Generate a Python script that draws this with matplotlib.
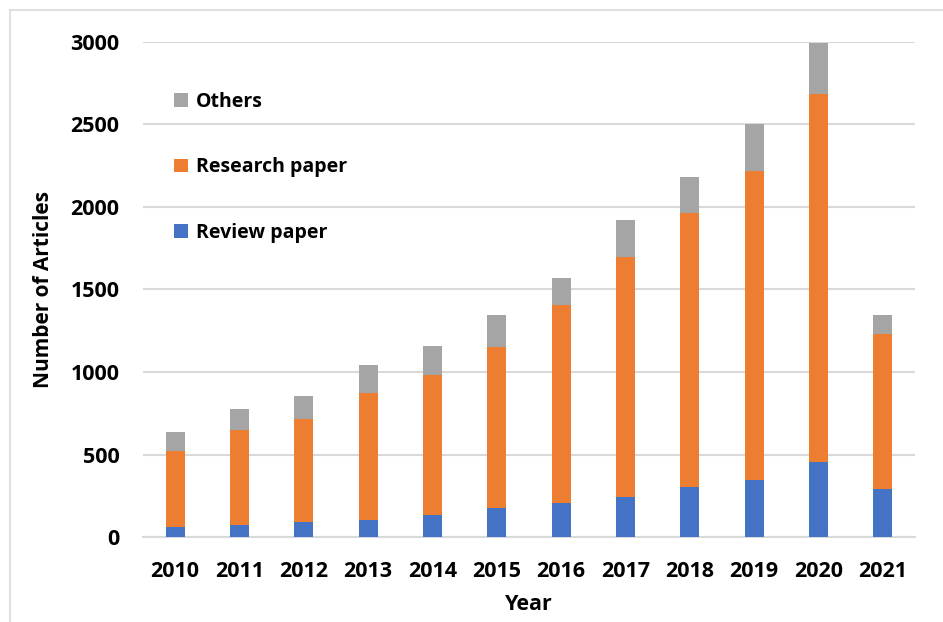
import matplotlib
matplotlib.use("Agg")
import matplotlib.pyplot as plt
from matplotlib.lines import Line2D
import numpy as np

plt.rcParams['font.family'] = ['Open Sans', 'DejaVu Sans']

years = ['2010', '2011', '2012', '2013', '2014', '2015',
         '2016', '2017', '2018', '2019', '2020', '2021']
review = [61, 74, 91, 107, 135, 176, 206, 246, 306, 347, 454, 291]
research = [463, 576, 627, 766, 847, 978, 1202, 1449, 1659, 1868, 2228, 940]
others = [115, 128, 139, 170, 178, 192, 162, 227, 218, 285, 308, 113]

c_review = '#4472C4'
c_research = '#ED7D31'
c_others = '#A5A5A5'

fig = plt.figure(figsize=(9.43, 6.22), dpi=100)
ax = fig.add_axes([143 / 943, 1 - 537.3 / 622, (915 - 143) / 943, (537.3 - 41.7) / 622])

x = np.arange(len(years))
w = 0.3
review_a = np.array(review)
research_a = np.array(research)
others_a = np.array(others)

b1 = ax.bar(x, review_a, w, color=c_review, label='Review paper', zorder=3)
b2 = ax.bar(x, research_a, w, bottom=review_a, color=c_research,
            label='Research paper', zorder=3)
b3 = ax.bar(x, others_a, w, bottom=review_a + research_a, color=c_others,
            label='Others', zorder=3)

ax.set_xlim(-0.5, len(years) - 0.5)
ax.set_ylim(0, 3000)
ax.set_yticks(range(0, 3001, 500))
ax.set_xticks(x)
ax.set_xticklabels(years)
ax.yaxis.grid(True, color='#D9D9D9', linewidth=1.5, zorder=0)
ax.set_axisbelow(True)
for s in ['top', 'right', 'left']:
    ax.spines[s].set_visible(False)
ax.spines['bottom'].set_color('#D9D9D9')
ax.spines['bottom'].set_linewidth(1.5)
ax.tick_params(axis='both', length=0, labelsize=15.5, pad=17)
for lab in ax.get_xticklabels() + ax.get_yticklabels():
    lab.set_fontweight('bold')

ax.set_xlabel('Year', fontsize=15.5, fontweight='bold', labelpad=9)
ax.set_ylabel('Number of Articles', fontsize=15, fontweight='bold', labelpad=12)

leg = ax.legend(handles=[b3, b2, b1], loc='upper left',
                bbox_to_anchor=(0.03, 0.915), frameon=False,
                fontsize=14, labelspacing=2.35, handlelength=0.7,
                handleheight=0.7, handletextpad=0.45, borderaxespad=0)
for t in leg.get_texts():
    t.set_fontweight('bold')

# chart-area frame (top and left edges)
fig.add_artist(Line2D([10 / 943, 1.0], [1 - 9.5 / 622, 1 - 9.5 / 622],
                      transform=fig.transFigure, color='#D9D9D9', linewidth=1.2))
fig.add_artist(Line2D([10 / 943, 10 / 943], [0.0, 1 - 9.5 / 622],
                      transform=fig.transFigure, color='#D9D9D9', linewidth=1.2))

fig.savefig('out.png', dpi=100)
